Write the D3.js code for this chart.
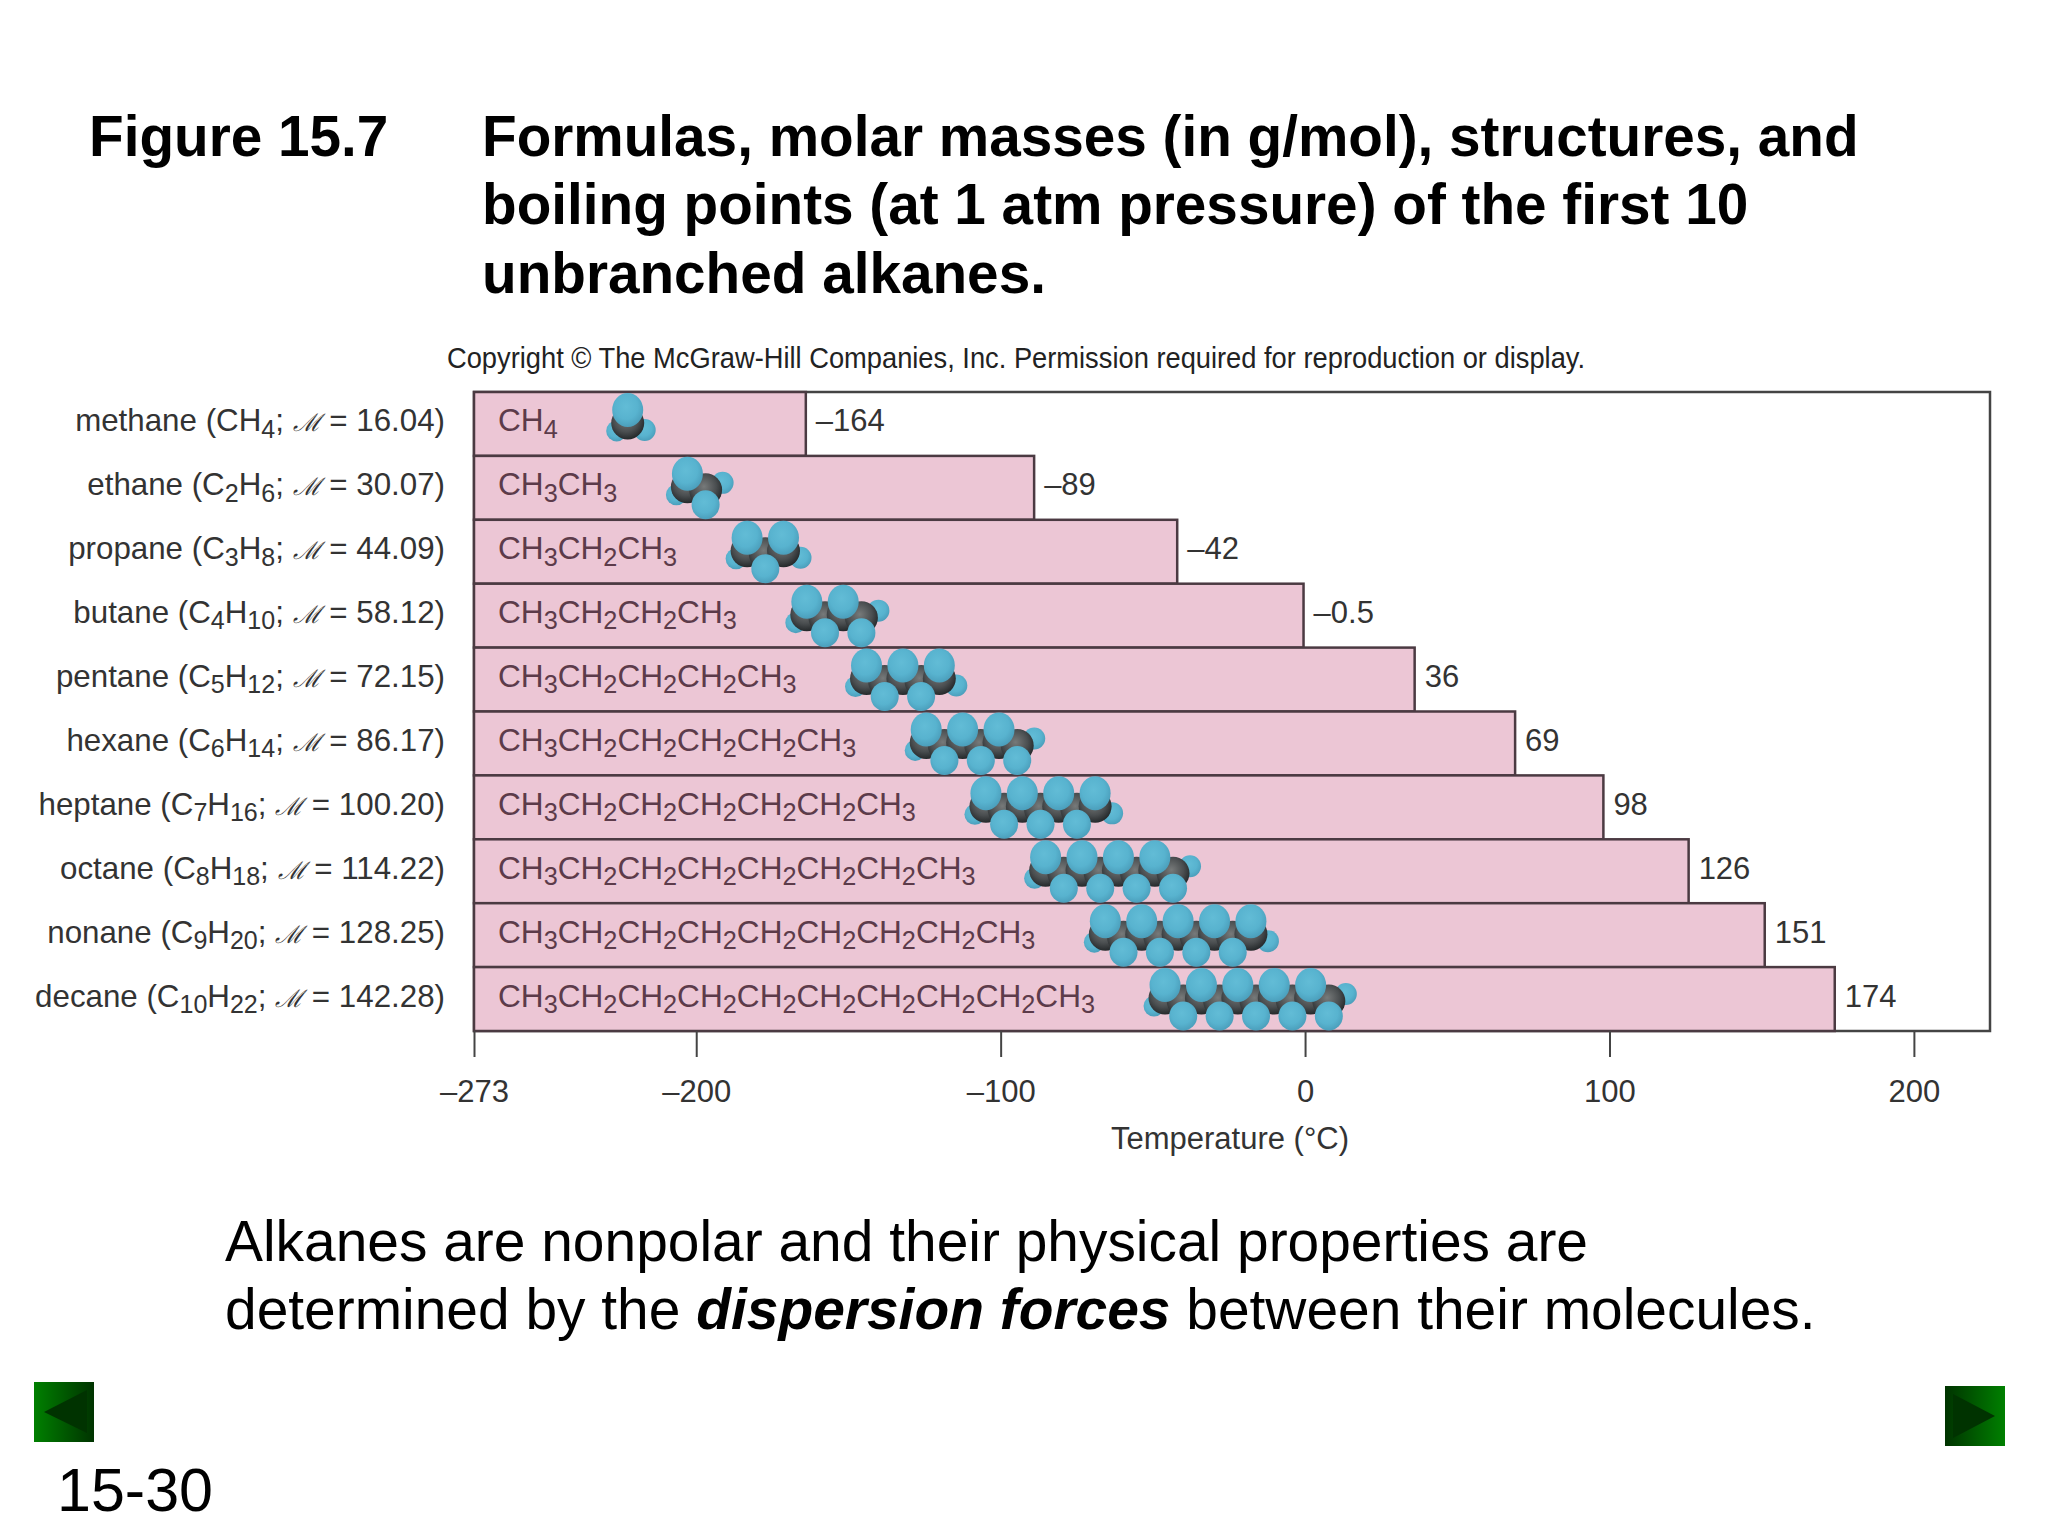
<!DOCTYPE html>
<html>
<head>
<meta charset="utf-8">
<script src="https://cdn.jsdelivr.net/npm/d3@7"></script>
<style>
  html, body { margin: 0; background: #fff; }
  text { font-family: "Liberation Sans", Arial, sans-serif; }
</style>
</head>
<body>
<div id="chart"></div>
<script>
// chart data
const names = ["methane", "ethane", "propane", "butane", "pentane", "hexane", "heptane", "octane", "nonane", "decane"];
const carbons = [1, 2, 3, 4, 5, 6, 7, 8, 9, 10];
const molarMasses = ["16.04", "30.07", "44.09", "58.12", "72.15", "86.17", "100.20", "114.22", "128.25", "142.28"];
const boilingPoints = [-164, -89, -42, -0.5, 36, 69, 98, 126, 151, 174];
const tickValues = [-273, -200, -100, 0, 100, 200];
const titleLines = ["Formulas, molar masses (in g/mol), structures, and", "boiling points (at 1 atm pressure) of the first 10", "unbranched alkanes."];

const width = 2048;
const height = 1536;
const margin = { top: 392, right: 58, bottom: 505, left: 474 };

const svg = d3.select("#chart").append("svg")
    .attr("width", width)
    .attr("height", height)
    .style("display", "block");

const x = d3.scaleLinear()
    .domain([-273, 225])
    .range([margin.left, width - margin.right]);

const y = d3.scaleBand()
    .domain(names)
    .range([margin.top, height - margin.bottom]);

const labelColor = "#333";
const formulaColor = "#5c3b4a";
const barStroke = "#4b3a42";

// gradients for the atoms and the nav buttons
const defs = svg.append("defs");
const radial = (id, light, mid, dark) => {
    const g = defs.append("radialGradient").attr("id", id).attr("cx", "45%").attr("cy", "40%").attr("r", "62%");
    g.append("stop").attr("offset", "0%").attr("stop-color", light);
    g.append("stop").attr("offset", "60%").attr("stop-color", mid);
    g.append("stop").attr("offset", "100%").attr("stop-color", dark);
};
radial("hydrogen", "#62bcd6", "#58b3cf", "#4a9dba");
radial("carbon", "#777a7a", "#4a4e50", "#222628");
const btn = defs.append("linearGradient").attr("id", "btn");
btn.append("stop").attr("offset", "0%").attr("stop-color", "#008000");
btn.append("stop").attr("offset", "100%").attr("stop-color", "#003300");
const btnRev = defs.append("linearGradient").attr("id", "btnRev");
btnRev.append("stop").attr("offset", "0%").attr("stop-color", "#003300");
btnRev.append("stop").attr("offset", "100%").attr("stop-color", "#008000");

// heading
svg.append("text").attr("x", 89).attr("y", 156)
    .attr("font-size", 56.7).attr("font-weight", "bold").text("Figure 15.7");
svg.append("g").selectAll("text").data(titleLines).join("text")
    .attr("x", 482)
    .attr("y", (d, i) => 156 + i * 68.3)
    .attr("font-size", 56.7)
    .attr("font-weight", "bold")
    .text(d => d);

svg.append("text")
    .attr("x", 1016).attr("y", 368)
    .attr("text-anchor", "middle")
    .attr("font-size", 29)
    .attr("fill", "#222")
    .attr("textLength", 1138)
    .attr("lengthAdjust", "spacingAndGlyphs")
    .text("Copyright © The McGraw-Hill Companies, Inc. Permission required for reproduction or display.");

// frame
svg.append("rect")
    .attr("x", x.range()[0]).attr("y", y.range()[0])
    .attr("width", x.range()[1] - x.range()[0])
    .attr("height", y.range()[1] - y.range()[0])
    .attr("fill", "#fff").attr("stroke", "#444").attr("stroke-width", 2.5);

// bars
svg.append("g").selectAll("rect").data(names).join("rect")
    .attr("x", x(-273))
    .attr("y", d => y(d))
    .attr("width", (d, i) => x(boilingPoints[i]) - x(-273))
    .attr("height", y.bandwidth())
    .attr("fill", "#ecc6d5")
    .attr("stroke", barStroke)
    .attr("stroke-width", 2.5);

// writes text with subscripts, parts are [string, isSub]
const subText = (sel, parts, size) => {
    parts.forEach(([s, sub, extra], i) => {
        const prev = i > 0 && parts[i - 1][1];
        const t = sel.append("tspan").text(s);
        if (sub) t.attr("font-size", size * 0.8).attr("dy", size * 0.2);
        else if (prev) t.attr("dy", -size * 0.2);
        if (extra) t.style("font-family", "DejaVu Serif").style("font-style", "italic").attr("font-size", size * 0.78);
    });
};
const carbonFormula = n => n === 1 ? [["CH"], ["4", true]]
    : [["CH"], ["3", true]]
        .concat(d3.range(n - 2).flatMap(() => [["CH"], ["2", true]]))
        .concat([["CH"], ["3", true]]);

// row labels
const labelSize = 31.3;
names.forEach((name, i) => {
    const n = carbons[i];
    const parts = [[`${name} (C`]];
    if (n > 1) parts.push([String(n), true]);
    parts.push(["H"], [String(2 * n + 2), true], ["; "], ["ℳ", false, true], [` = ${molarMasses[i]})`]);
    svg.append("text")
        .attr("x", 445)
        .attr("y", y(name) + y.bandwidth() / 2 + 7.5)
        .attr("text-anchor", "end")
        .attr("font-size", labelSize)
        .attr("fill", labelColor)
        .call(subText, parts, labelSize);
});

// condensed formulas + space filling models, the model starts a fixed gap after the formula
const formulaSize = 31.6;
names.forEach((name, i) => {
    const cy = y(name) + y.bandwidth() / 2;
    const t = svg.append("text")
        .attr("x", x(-273) + 24)
        .attr("y", cy + 7.5)
        .attr("font-size", formulaSize)
        .attr("fill", formulaColor)
        .call(subText, carbonFormula(carbons[i]), formulaSize);
    const end = x(-273) + 24 + t.node().getComputedTextLength();
    drawMolecule(end + 70, cy, carbons[i]);
});

function drawMolecule(x0, cy, n) {
    const step = 18.2;
    const g = svg.append("g");
    const cs = d3.range(n).map(k => ({ cx: x0 + k * step, up: k % 2 === 0 }));
    const last = cs[n - 1];
    // terminal hydrogens sit behind the chain
    const ends = [
        { cx: cs[0].cx - 11, cy: cy + 7, r: 10.5 },
        { cx: last.cx + 17, cy: last.up ? cy + 6 : cy - 5, r: 11 }
    ];
    g.selectAll(".end").data(ends).join("circle")
        .attr("cx", d => d.cx).attr("cy", d => d.cy).attr("r", d => d.r)
        .attr("fill", "url(#hydrogen)");
    g.selectAll(".c").data(cs).join("circle")
        .attr("cx", d => d.cx)
        .attr("cy", d => d.up ? cy - 1 : cy + 2)
        .attr("r", 16.5)
        .attr("fill", "url(#carbon)");
    g.selectAll(".h").data(cs).join("ellipse")
        .attr("cx", d => d.cx)
        .attr("cy", d => d.up ? cy - 14 : cy + 17)
        .attr("rx", d => d.up ? 15.5 : 14)
        .attr("ry", d => d.up ? 17 : 14.5)
        .attr("fill", "url(#hydrogen)");
}

// boiling point labels
svg.append("g").selectAll("text").data(names).join("text")
    .attr("x", (d, i) => x(boilingPoints[i]) + 10)
    .attr("y", d => y(d) + y.bandwidth() / 2 + 7.5)
    .attr("font-size", 31)
    .attr("fill", labelColor)
    .text((d, i) => String(boilingPoints[i]).replace("-", "–"));

// x axis
const axis = svg.append("g")
    .attr("transform", `translate(0, ${y.range()[1]})`)
    .call(d3.axisBottom(x).tickValues(tickValues).tickSize(26).tickPadding(23).tickFormat(d => String(d).replace("-", "–")));
axis.select(".domain").remove();
axis.selectAll(".tick line").attr("stroke", "#444").attr("stroke-width", 2);
axis.selectAll(".tick text")
    .attr("font-size", 31)
    .attr("fill", labelColor)
    .style("font-family", '"Liberation Sans", Arial, sans-serif');

svg.append("text")
    .attr("x", 1230).attr("y", 1149)
    .attr("text-anchor", "middle")
    .attr("font-size", 31)
    .attr("fill", labelColor)
    .text("Temperature (°C)");

// note below the chart
const note = svg.append("g").attr("font-size", 56.9);
note.append("text").attr("x", 225).attr("y", 1261)
    .text("Alkanes are nonpolar and their physical properties are");
const note2 = note.append("text").attr("x", 225).attr("y", 1329);
note2.append("tspan").text("determined by the ");
note2.append("tspan").attr("font-weight", "bold").attr("font-style", "italic").text("dispersion forces");
note2.append("tspan").text(" between their molecules.");

// nav buttons + slide number
svg.append("rect").attr("x", 34).attr("y", 1382).attr("width", 60).attr("height", 60).attr("fill", "url(#btn)");
svg.append("path").attr("d", "M44,1412 L87,1390 L87,1433 Z").attr("fill", "#003300");
svg.append("rect").attr("x", 1945).attr("y", 1386).attr("width", 60).attr("height", 60).attr("fill", "url(#btnRev)");
svg.append("path").attr("d", "M1953,1394 L1995,1416 L1953,1438 Z").attr("fill", "#003300");
svg.append("text").attr("x", 57).attr("y", 1511).attr("font-size", 61).text("15-30");
</script>
</body>
</html>
